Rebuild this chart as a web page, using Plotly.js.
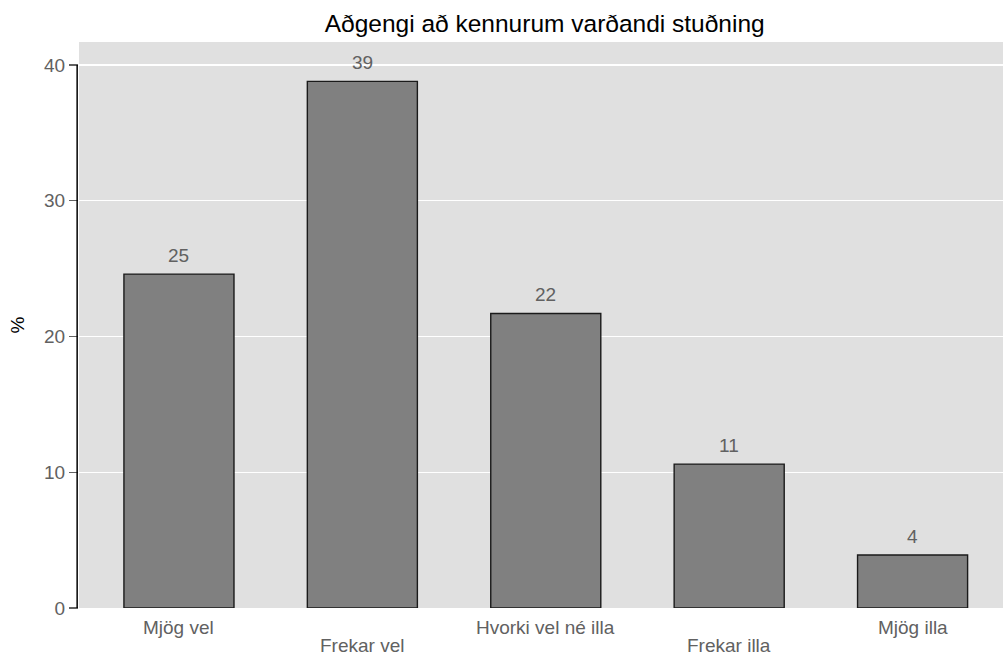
<!DOCTYPE html>
<html>
<head>
<meta charset="utf-8">
<script src="https://cdn.plot.ly/plotly-3.0.1.min.js"></script>
<style>html,body{margin:0;padding:0;background:#fff;}#chart{width:1003px;height:657px;}</style>
</head>
<body>
<div id="chart"></div>
<script>
const categories = ["Mjög vel", "Frekar vel", "Hvorki vel né illa", "Frekar illa", "Mjög illa"];
const values = [24.6, 38.8, 21.7, 10.6, 3.9];
const valueLabels = ["25", "39", "22", "11", "4"];
const yTicks = [0, 10, 20, 30, 40];
const chartTitle = "Aðgengi að kennurum varðandi stuðning";
const yTitle = "%";

const FONT = "Liberation Sans, Arial, sans-serif";
const GREY = "#616161";

const trace = {
  type: "bar",
  x: categories,
  y: values,
  width: 0.6,
  marker: {color: "#808080", line: {color: "#1a1a1a", width: 1.4}},
  hoverinfo: "none"
};

const annotations = [];
values.forEach((v, i) => {
  annotations.push({
    x: categories[i], y: v, xref: "x", yref: "y",
    text: valueLabels[i], showarrow: false,
    yanchor: "middle", yshift: 19,
    font: {family: FONT, size: 19, color: GREY}
  });
});
categories.forEach((c, i) => {
  annotations.push({
    x: c, y: 0, xref: "x", yref: "y",
    text: c, showarrow: false,
    yanchor: "middle", yshift: (i % 2 === 0) ? -19 : -37,
    font: {family: FONT, size: 19, color: GREY}
  });
});

const layout = {
  width: 1003, height: 657,
  margin: {l: 79, r: 0, t: 42, b: 49, pad: 0},
  paper_bgcolor: "#ffffff",
  plot_bgcolor: "#e0e0e0",
  showlegend: false,
  font: {family: FONT, color: GREY, size: 19},
  title: {
    text: chartTitle,
    font: {family: FONT, size: 24.5, color: "#000000"},
    x: 0.504, xanchor: "center", xref: "paper",
    y: 0.965, yanchor: "middle"
  },
  xaxis: {
    type: "category",
    range: [-0.545, 4.493],
    showticklabels: false,
    ticks: "",
    showgrid: false,
    zeroline: false,
    showline: false
  },
  yaxis: {
    range: [0, 41.7],
    tickvals: yTicks,
    ticktext: yTicks.map(String),
    ticks: "outside",
    ticklen: 9,
    tickwidth: 1.2,
    tickcolor: GREY,
    tickfont: {family: FONT, size: 19, color: GREY},
    showgrid: true,
    gridcolor: "#ffffff",
    gridwidth: 1.2,
    zeroline: false,
    showline: false,
    title: {text: yTitle, font: {family: FONT, size: 19, color: "#000000"}, standoff: 14}
  },
  shapes: [{
    type: "line", xref: "paper", yref: "y",
    x0: -0.002, x1: -0.002, y0: 0, y1: yTicks[yTicks.length - 1],
    line: {color: "#000000", width: 1.5}
  }],
  annotations: annotations
};

Plotly.newPlot("chart", [trace], layout, {displayModeBar: false, staticPlot: true});
</script>
</body>
</html>
